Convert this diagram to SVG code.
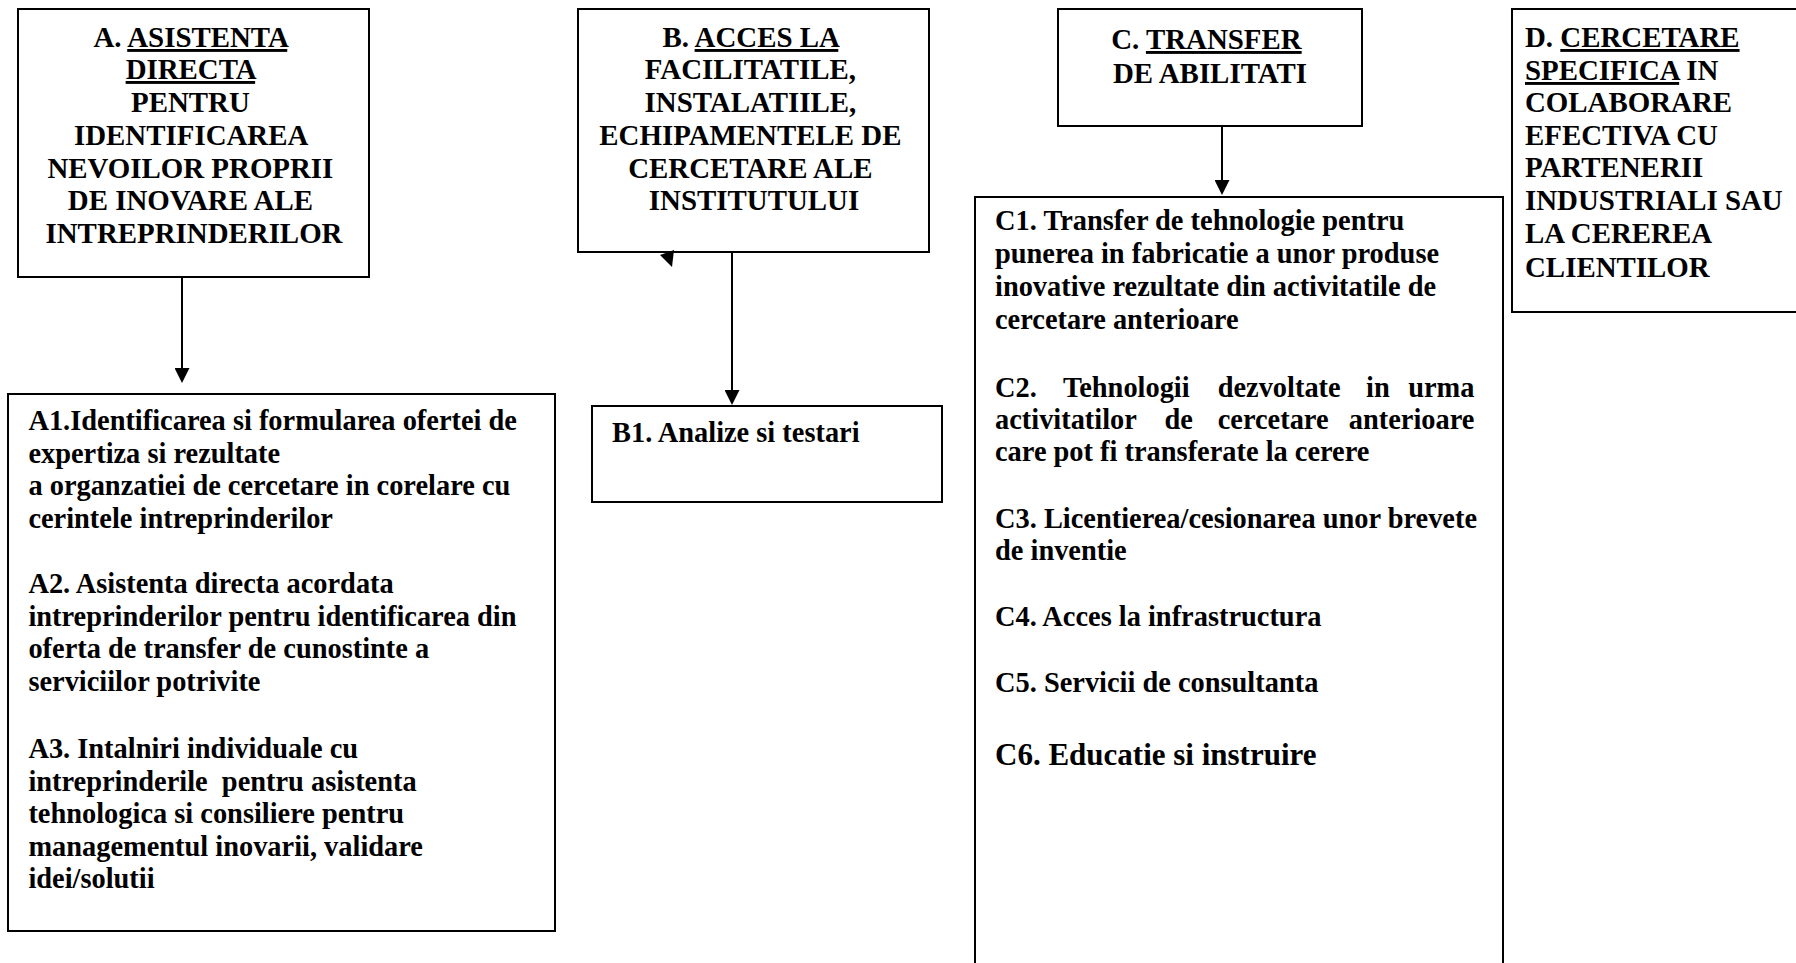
<svg xmlns="http://www.w3.org/2000/svg" width="1796" height="963" viewBox="0 0 1796 963">
<style>
.bg{fill:#ffffff}
.box{fill:#ffffff;stroke:#000000;stroke-width:2}
.t{font-family:"Liberation Serif","Times New Roman",serif;font-weight:bold;font-size:28.4px;fill:#000000}
.h{font-size:28.9px}
.big{font-size:31px}
.u{text-decoration:underline}
.conn{stroke:#000000;stroke-width:2;fill:none}
</style>
<defs>
<marker id="ah" viewBox="0 0 15 15" refX="5" refY="7.5" markerWidth="15" markerHeight="15" markerUnits="userSpaceOnUse" orient="auto">
<path d="M0,0 L15,7.5 L0,15 z" fill="#000000"/>
</marker>
</defs>
<rect class="bg" x="0" y="0" width="1796" height="963"/>

<g id="nodeA">
<rect class="box" x="18" y="9" width="351" height="268"/>
<text class="t h" text-anchor="middle">
<tspan x="194" y="47">A. <tspan class="u">ASISTENTA</tspan></tspan>
<tspan x="194" y="79" class="u">DIRECTA</tspan>
<tspan x="194" y="112">PENTRU</tspan>
<tspan x="194" y="145">IDENTIFICAREA</tspan>
<tspan x="194" y="178">NEVOILOR PROPRII</tspan>
<tspan x="194" y="210">DE INOVARE ALE</tspan>
<tspan x="194" y="243">INTREPRINDERILOR</tspan>
</text>
</g>

<g id="nodeB">
<rect class="box" x="578" y="9" width="351" height="243"/>
<text class="t h" text-anchor="middle">
<tspan x="754" y="47">B. <tspan class="u">ACCES LA</tspan></tspan>
<tspan x="754" y="79">FACILITATILE,</tspan>
<tspan x="754" y="112">INSTALATIILE,</tspan>
<tspan x="754" y="145">ECHIPAMENTELE DE</tspan>
<tspan x="754" y="178">CERCETARE ALE</tspan>
<tspan x="754" y="210">INSTITUTULUI</tspan>
</text>
</g>

<g id="nodeC">
<rect class="box" x="1058" y="9" width="304" height="117"/>
<text class="t h" text-anchor="middle">
<tspan x="1210" y="49">C. <tspan class="u">TRANSFER</tspan></tspan>
<tspan x="1210" y="83">DE ABILITATI</tspan>
</text>
</g>

<g id="nodeD">
<rect class="box" x="1512" y="9" width="300" height="303"/>
<text class="t h">
<tspan x="1525" y="47">D. <tspan class="u">CERCETARE</tspan></tspan>
<tspan x="1525" y="80"><tspan class="u">SPECIFICA</tspan> IN</tspan>
<tspan x="1525" y="112">COLABORARE</tspan>
<tspan x="1525" y="145">EFECTIVA CU</tspan>
<tspan x="1525" y="177">PARTENERII</tspan>
<tspan x="1525" y="210">INDUSTRIALI SAU</tspan>
<tspan x="1525" y="243">LA CEREREA</tspan>
<tspan x="1525" y="277">CLIENTILOR</tspan>
</text>
</g>

<g id="nodeA1">
<rect class="box" x="8" y="394" width="547" height="537"/>
<text class="t">
<tspan x="28.4" y="430">A1.Identificarea si formularea ofertei de</tspan>
<tspan x="28.4" y="463">expertiza si rezultate</tspan>
<tspan x="28.4" y="495">a organzatiei de cercetare in corelare cu</tspan>
<tspan x="28.4" y="528">cerintele intreprinderilor</tspan>
<tspan x="28.4" y="593">A2. Asistenta directa acordata</tspan>
<tspan x="28.4" y="626">intreprinderilor pentru identificarea din</tspan>
<tspan x="28.4" y="658">oferta de transfer de cunostinte a</tspan>
<tspan x="28.4" y="691">serviciilor potrivite</tspan>
<tspan x="28.4" y="758">A3. Intalniri individuale cu</tspan>
<tspan x="28.4" y="791">intreprinderile&#160; pentru asistenta</tspan>
<tspan x="28.4" y="823">tehnologica si consiliere pentru</tspan>
<tspan x="28.4" y="856">managementul inovarii, validare</tspan>
<tspan x="28.4" y="888">idei/solutii</tspan>
</text>
</g>

<g id="nodeB1">
<rect class="box" x="592" y="406" width="350" height="96"/>
<text class="t" x="612" y="442">B1. Analize si testari</text>
</g>

<g id="nodeC1">
<rect class="box" x="975" y="197" width="528" height="820"/>
<text class="t">
<tspan x="995" y="230">C1. Transfer de tehnologie pentru</tspan>
<tspan x="995" y="263">punerea in fabricatie a unor produse</tspan>
<tspan x="995" y="296">inovative rezultate din activitatile de</tspan>
<tspan x="995" y="329">cercetare anterioare</tspan>
<tspan x="995" y="397">C2.</tspan><tspan x="1062.9" y="397">Tehnologii</tspan><tspan x="1217.7" y="397">dezvoltate</tspan><tspan x="1366.1" y="397">in</tspan><tspan x="1481.5" y="397" text-anchor="end">urma</tspan>
<tspan x="995" y="429">activitatilor</tspan><tspan x="1164.5" y="429">de</tspan><tspan x="1217.7" y="429">cercetare</tspan><tspan x="1481.5" y="429" text-anchor="end">anterioare</tspan>
<tspan x="995" y="461">care pot fi transferate la cerere</tspan>
<tspan x="995" y="528">C3. Licentierea/cesionarea unor brevete</tspan>
<tspan x="995" y="560">de inventie</tspan>
<tspan x="995" y="626">C4. Acces la infrastructura</tspan>
<tspan x="995" y="692">C5. Servicii de consultanta</tspan>
</text>
<text class="t big" x="995" y="765">C6. Educatie si instruire</text>
</g>

<g id="connectors">
<line class="conn" x1="182" y1="277" x2="182" y2="373" marker-end="url(#ah)"/>
<line class="conn" x1="732" y1="252" x2="732" y2="395" marker-end="url(#ah)"/>
<line class="conn" x1="1222" y1="126" x2="1222" y2="185" marker-end="url(#ah)"/>
<polygon points="660,255 674,250 672,267" fill="#000000"/>
</g>
</svg>
